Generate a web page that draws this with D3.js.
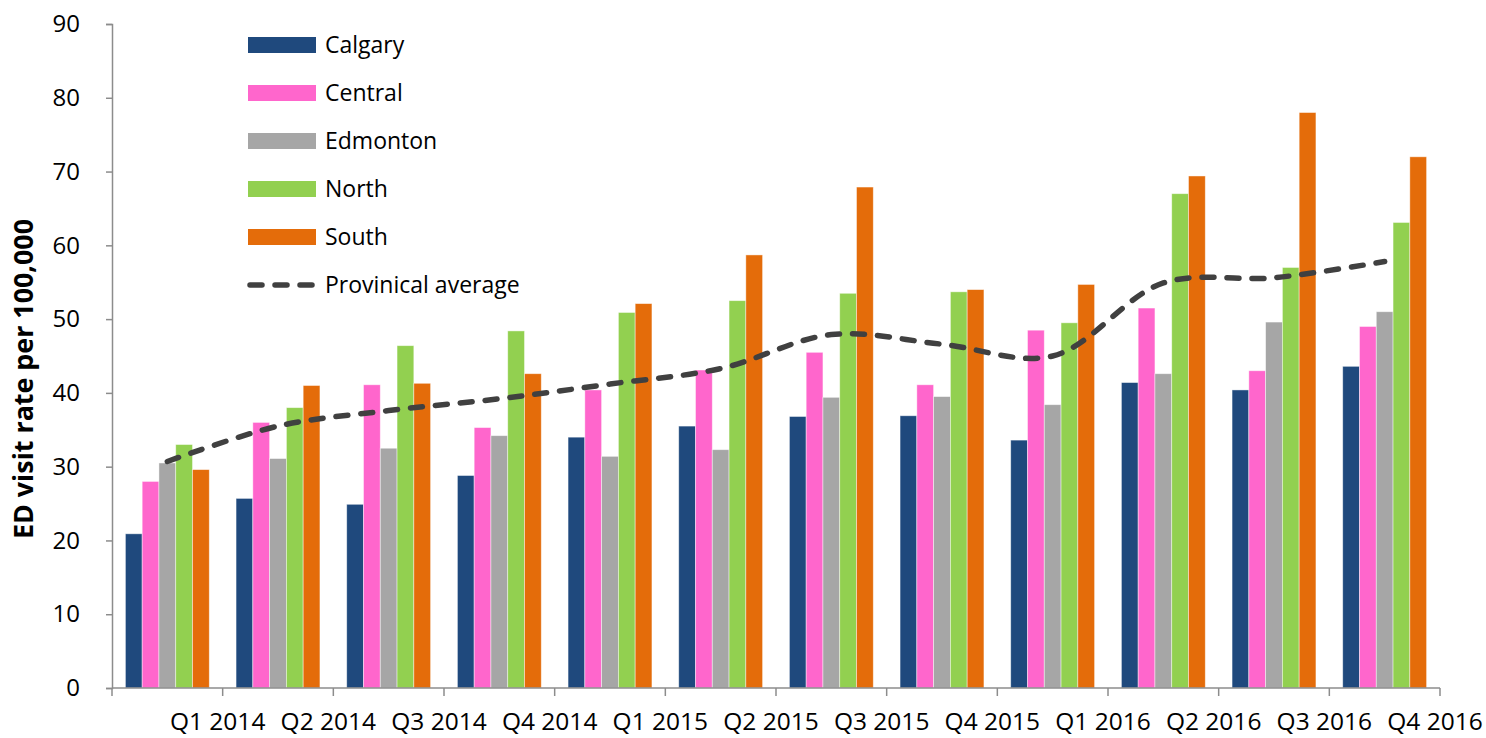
<!DOCTYPE html>
<html>
<head>
<meta charset="utf-8">
<script src="https://cdn.jsdelivr.net/npm/d3@7"></script>
<style>
  html, body { margin: 0; padding: 0; background: #fff; }
  svg { display: block; }
  text { font-family: "Open Sans", "Noto Sans", sans-serif; fill: #000; }
</style>
</head>
<body>
<svg id="chart" width="1486" height="738"></svg>
<script>
// Quarterly ED visit rates per 100,000 by zone
const quarters = ["Q1 2014", "Q2 2014", "Q3 2014", "Q4 2014",
                  "Q1 2015", "Q2 2015", "Q3 2015", "Q4 2015",
                  "Q1 2016", "Q2 2016", "Q3 2016", "Q4 2016"];
const zones = ["Calgary", "Central", "Edmonton", "North", "South"];
const calgary  = [20.9, 25.7, 24.9, 28.8, 34.0, 35.5, 36.8, 36.9, 33.6, 41.4, 40.4, 43.6];
const central  = [28.0, 36.0, 41.1, 35.3, 40.4, 43.1, 45.5, 41.1, 48.5, 51.5, 43.0, 49.0];
const edmonton = [30.5, 31.1, 32.5, 34.2, 31.4, 32.3, 39.4, 39.5, 38.4, 42.6, 49.6, 51.0];
const north    = [33.0, 38.0, 46.4, 48.4, 50.9, 52.5, 53.5, 53.7, 49.5, 67.0, 57.0, 63.1];
const south    = [29.6, 41.0, 41.3, 42.6, 52.1, 58.7, 67.9, 54.0, 54.7, 69.4, 78.0, 72.0];
const provincialAvg = [30.7, 35.5, 37.6, 39.2, 41.2, 43.3, 47.9, 46.6, 45.0, 54.9, 55.6, 57.8];
const yTicks = [0, 10, 20, 30, 40, 50, 60, 70, 80, 90];
const zoneColors = ["#1F497D", "#FF66CC", "#A6A6A6", "#92D050", "#E46C0A"];
const avgLabel = "Provinical average";
const yTitle = "ED visit rate per 100,000";

const seriesValues = [calgary, central, edmonton, north, south];

const svg = d3.select("#chart");
const plot = { left: 112, right: 1440, top: 24, bottom: 688 };

const y = d3.scaleLinear().domain([0, 90]).range([plot.bottom, plot.top]);
const x0 = d3.scaleBand().domain(quarters).range([plot.left, plot.right]);
const bw = x0.bandwidth();
const x1 = d3.scaleBand().domain(zones).range([bw * 0.121, bw * 0.879]);
const color = d3.scaleOrdinal().domain(zones).range(zoneColors);

// Bars
const groups = svg.append("g").selectAll("g")
  .data(quarters)
  .join("g")
  .attr("transform", d => `translate(${x0(d)},0)`);

groups.selectAll("rect")
  .data((q, i) => zones.map((z, k) => ({ zone: z, value: seriesValues[k][i] })))
  .join("rect")
  .attr("x", d => x1(d.zone))
  .attr("width", x1.bandwidth())
  .attr("y", d => y(d.value))
  .attr("height", d => y(0) - y(d.value))
  .attr("fill", d => color(d.zone))
  .attr("stroke", "rgba(255,255,255,0.55)")
  .attr("stroke-width", 0.8);

// Y axis
const yAxis = d3.axisLeft(y).tickValues(yTicks).tickSize(6).tickPadding(26);
const gy = svg.append("g").attr("transform", `translate(${plot.left},0)`).call(yAxis);
gy.select(".domain").attr("stroke", "#8c8c8c").attr("stroke-width", 1.5);
gy.selectAll(".tick line").attr("stroke", "#8c8c8c").attr("stroke-width", 1.5);
gy.selectAll(".tick text")
  .attr("font-size", 24)
  .attr("font-family", "'Open Sans', sans-serif")
  .attr("fill", "#000");

// X axis: baseline plus group-boundary ticks
const boundaries = quarters.map(q => x0(q)).concat([plot.right]);
const gx = svg.append("g");
gx.append("line")
  .attr("x1", plot.left).attr("x2", plot.right)
  .attr("y1", y(0)).attr("y2", y(0))
  .attr("stroke", "#8c8c8c").attr("stroke-width", 1.5);
gx.selectAll("line.tk")
  .data(boundaries)
  .join("line")
  .attr("class", "tk")
  .attr("x1", d => d).attr("x2", d => d)
  .attr("y1", y(0)).attr("y2", y(0) + 8)
  .attr("stroke", "#8c8c8c").attr("stroke-width", 1.5);
gx.selectAll("text")
  .data(quarters)
  .join("text")
  .attr("x", d => x0(d) + bw - 5)
  .attr("y", 730)
  .attr("text-anchor", "middle")
  .attr("font-size", 24.5)
  .text(d => d);

// Provincial average (smoothed dashed line through group centres)
const line = d3.line()
  .x((d, i) => x0(quarters[i]) + bw / 2)
  .y(d => y(d))
  .curve(d3.curveCatmullRom.alpha(0.5));
svg.append("path")
  .datum(provincialAvg)
  .attr("d", line)
  .attr("fill", "none")
  .attr("stroke", "#404040")
  .attr("stroke-width", 5.5)
  .attr("stroke-linecap", "round")
  .attr("stroke-dasharray", "12,13");

// Y axis title
svg.append("text")
  .attr("transform", "translate(33,379) rotate(-90)")
  .attr("text-anchor", "middle")
  .attr("font-size", 26)
  .attr("font-weight", "bold")
  .attr("textLength", 320)
  .attr("lengthAdjust", "spacingAndGlyphs")
  .text(yTitle);

// Legend
const legendItems = zones.map((z, i) => ({ label: z, color: zoneColors[i], type: "bar" }))
  .concat([{ label: avgLabel, color: "#404040", type: "line" }]);
const lg = svg.append("g").selectAll("g")
  .data(legendItems)
  .join("g")
  .attr("transform", (d, i) => `translate(248,${45 + i * 48})`);
lg.filter(d => d.type === "bar").append("rect")
  .attr("x", 0).attr("y", -8).attr("width", 68).attr("height", 16)
  .attr("fill", d => d.color);
lg.filter(d => d.type === "line").append("line")
  .attr("x1", 2).attr("x2", 66).attr("y1", 0).attr("y2", 0)
  .attr("stroke", d => d.color)
  .attr("stroke-width", 5.5)
  .attr("stroke-linecap", "round")
  .attr("stroke-dasharray", "12,13");
lg.append("text")
  .attr("x", 77).attr("y", 0)
  .attr("dy", "0.35em")
  .attr("font-size", 23)
  .text(d => d.label);
</script>
</body>
</html>
